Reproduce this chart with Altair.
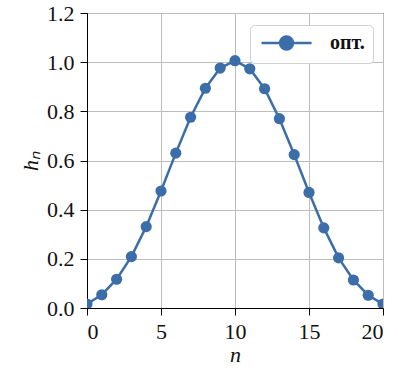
import altair as alt
import pandas as pd

n_values = list(range(21))
h_values = [0.016, 0.054, 0.117, 0.209, 0.331, 0.476, 0.630, 0.776, 0.894, 0.976, 1.006,
            0.973, 0.892, 0.770, 0.624, 0.470, 0.326, 0.204, 0.114, 0.052, 0.016]
series_name = "опт."
x_ticks = [0, 5, 10, 15, 20]
y_ticks = [0.0, 0.2, 0.4, 0.6, 0.8, 1.0, 1.2]

df = pd.DataFrame({"n": n_values, "h": h_values, "s": [series_name] * len(n_values)})

BLUE = "#3b6ea8"
FONT = "Times New Roman, Liberation Serif, serif"

legend_path = "M-1,0H6.7M1.85,0A1,1,0,1,0,3.85,0A1,1,0,1,0,1.85,0Z"

chart = alt.Chart(df).mark_line(
    color=BLUE, strokeWidth=2.5, clip=True,
    point=alt.OverlayMarkDef(filled=True, size=125, color=BLUE, opacity=1, clip=True),
).encode(
    x=alt.X("n:Q", scale=alt.Scale(domain=[0, 20], nice=False),
            axis=alt.Axis(values=x_ticks, title="n", format="d")),
    y=alt.Y("h:Q", scale=alt.Scale(domain=[0, 1.2], nice=False),
            axis=alt.Axis(values=y_ticks, title="hₙ", format=".1f")),
    color=alt.Color("s:N", scale=alt.Scale(range=[BLUE]),
                    legend=alt.Legend(
                        title=None, orient="none", legendX=163, legendY=12,
                        symbolType=legend_path, symbolSize=169,
                        symbolStrokeWidth=2.5, symbolStrokeColor=BLUE,
                        symbolFillColor=BLUE, symbolOpacity=1,
                        labelOffset=52, labelFont=FONT, labelFontSize=20,
                        labelFontWeight="bold", labelColor="#111111",
                        padding=8, fillColor="white", strokeColor="#d0d0d0",
                        cornerRadius=4,
                    )),
).properties(
    width=296, height=295,
    autosize=alt.AutoSizeParams(type="none"),
    padding={"left": 87, "top": 13, "right": 15, "bottom": 64},
).configure_view(
    stroke="black", strokeWidth=1,
).configure_axis(
    labelFont=FONT, labelFontSize=22, labelColor="#111111",
    titleFont=FONT, titleFontSize=22, titleFontStyle="italic", titleFontWeight="normal",
    titleColor="#111111",
    domainColor="black", domainWidth=1,
    tickColor="black", tickSize=7, tickWidth=1,
    gridColor="#c0bcbc", gridWidth=1,
    labelPadding=6,
).configure_axisX(
    titlePadding=2,
).configure_axisY(
    titlePadding=4,
)

chart.save("out.html", embed_options={"renderer": "svg", "actions": False})
